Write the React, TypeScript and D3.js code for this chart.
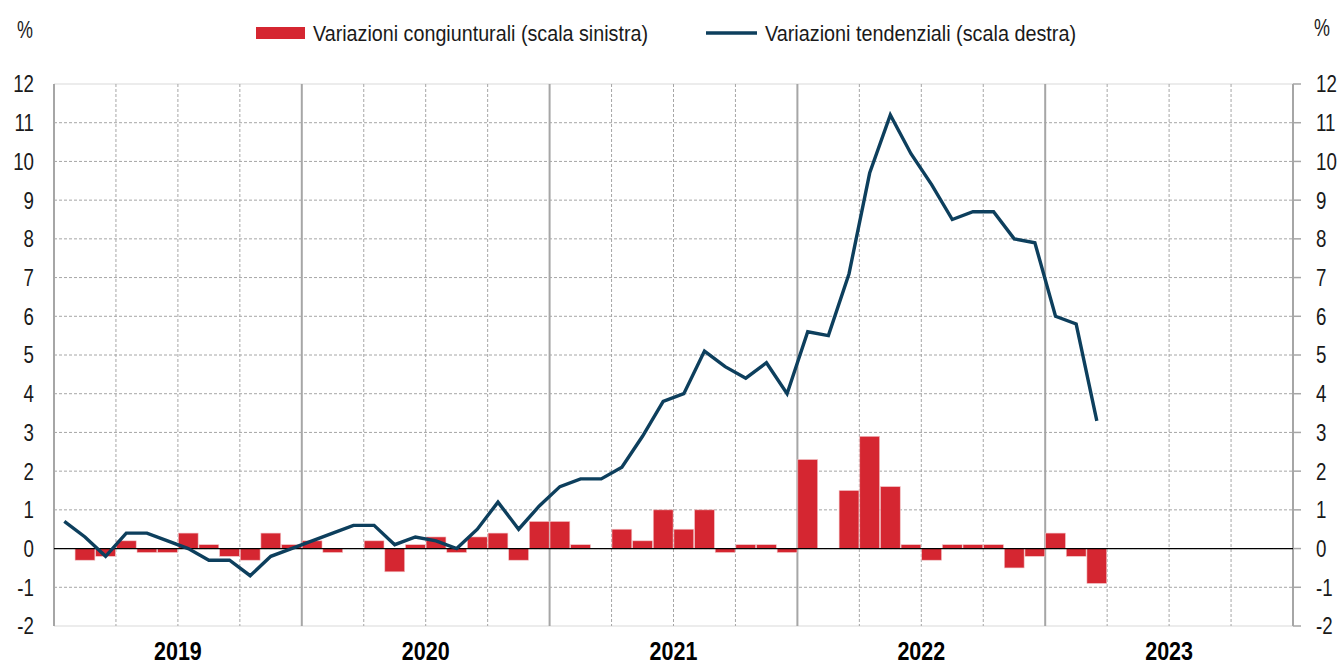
import * as d3 from 'd3';

// monthly data Jan 2019 - Mar 2023
const years = ['2019', '2020', '2021', '2022', '2023'];
const monthNames = ['gen', 'feb', 'mar', 'apr', 'mag', 'giu', 'lug', 'ago', 'set', 'ott', 'nov', 'dic'];
const congiunturali = [
  0, -0.3, -0.2, 0.2, -0.1, -0.1, 0.4, 0.1, -0.2, -0.3, 0.4, 0.1,
  0.2, -0.1, 0, 0.2, -0.6, 0.1, 0.3, -0.1, 0.3, 0.4, -0.3, 0.7,
  0.7, 0.1, 0, 0.5, 0.2, 1.0, 0.5, 1.0, -0.1, 0.1, 0.1, -0.1,
  2.3, 0, 1.5, 2.9, 1.6, 0.1, -0.3, 0.1, 0.1, 0.1, -0.5, -0.2,
  0.4, -0.2, -0.9,
];
const tendenziali = [
  0.7, 0.3, -0.2, 0.4, 0.4, 0.2, 0.0, -0.3, -0.3, -0.7, -0.2, 0.0,
  0.2, 0.4, 0.6, 0.6, 0.1, 0.3, 0.2, 0.0, 0.5, 1.2, 0.5, 1.1,
  1.6, 1.8, 1.8, 2.1, 2.9, 3.8, 4.0, 5.1, 4.7, 4.4, 4.8, 4.0,
  5.6, 5.5, 7.1, 9.7, 11.2, 10.2, 9.4, 8.5, 8.7, 8.7, 8.0, 7.9,
  6.0, 5.8, 3.3,
];
const yTicks = [-2, -1, 0, 1, 2, 3, 4, 5, 6, 7, 8, 9, 10, 11, 12];
const legendLabels = ['Variazioni congiunturali (scala sinistra)', 'Variazioni tendenziali (scala destra)'];

const W = 1341;
const H = 664;
const left = 54;
const right = 1293;
const top = 84;
const bottom = 626;
const font = '"Liberation Sans", Arial, sans-serif';

// Arial Narrow look-alike: regular sans squeezed horizontally
function Narrow({ x, y, anchor = 'start', size, sx = 0.78, bold = false, children, len }: any) {
  return (
    <g transform={`translate(${x},${y}) scale(${sx},1)`}>
      <text x={0} y={0} dy="0.35em" textAnchor={anchor} fontFamily={font} fontSize={size}
        fontWeight={bold ? 'bold' : 'normal'} fill={bold ? '#000' : '#1a1a1a'}
        textLength={len ? len / sx : undefined} lengthAdjust={len ? 'spacingAndGlyphs' : undefined}>
        {children}
      </text>
    </g>
  );
}

export default function App() {
  const months = years.flatMap(y => monthNames.map(m => `${m} ${y}`));

  const x = d3.scaleBand<string>().domain(months).range([left, right]).paddingInner(0.04).paddingOuter(0.02);
  const step = (right - left) / months.length;
  const xc = (i: number) => left + step * (i + 0.5);
  const yL = d3.scaleLinear().domain([-2, 12]).range([bottom, top]);
  const yR = d3.scaleLinear().domain([-2, 12]).range([bottom, top]);

  const line = d3.line<number>()
    .x((_, i) => xc(i))
    .y(d => yR(d));

  const quarterLines = d3.range(0, months.length + 1, 3).map(i => ({ i, x: left + step * i }));

  return (
    <svg width={W} height={H} style={{ display: 'block', position: 'absolute', left: 0, top: 0 }}>
      <rect width={W} height={H} fill="#fff" />

      {/* horizontal grid */}
      {yTicks.map(t => (
        <line key={'h' + t} x1={left} x2={right} y1={yL(t)} y2={yL(t)}
          stroke={t === 12 || t === -2 ? '#d9d9d9' : '#a6a6a6'}
          strokeWidth={1}
          strokeDasharray={t === 12 || t === -2 ? undefined : '3,2'} />
      ))}

      {/* vertical grid: quarters dashed, years solid */}
      {quarterLines.map(q => (
        <line key={'v' + q.i} x1={q.x} x2={q.x} y1={top} y2={bottom}
          stroke="#a6a6a6"
          strokeWidth={q.i % 12 === 0 ? 2 : 1}
          strokeDasharray={q.i % 12 === 0 ? undefined : '3,2'} />
      ))}

      {/* right axis ticks */}
      {yTicks.map(t => (
        <line key={'rt' + t} x1={right} x2={right + 8} y1={yR(t)} y2={yR(t)} stroke="#a6a6a6" strokeWidth={1.5} />
      ))}

      {/* bars */}
      {congiunturali.map((v, i) => (
        <rect key={'b' + i}
          x={x(months[i])!}
          y={Math.min(yL(v), yL(0))}
          width={x.bandwidth()}
          height={Math.abs(yL(v) - yL(0))}
          fill="#d52631"
          stroke="#f2c4c6"
          strokeWidth={0.6} />
      ))}

      {/* zero line */}
      <line x1={left} x2={right} y1={yL(0)} y2={yL(0)} stroke="#000" strokeWidth={1.2} />

      {/* line */}
      <path d={line(tendenziali) || ''} fill="none" stroke="#0d3f5d" strokeWidth={3.4} strokeLinejoin="miter" />

      {/* left labels */}
      {yTicks.map(t => (
        <Narrow key={'lt' + t} x={34} y={yL(t)} anchor="end" size={24}>{t}</Narrow>
      ))}
      {/* right labels */}
      {yTicks.map(t => (
        <Narrow key={'rl' + t} x={1316} y={yR(t)} size={24}>{t}</Narrow>
      ))}

      {/* year labels */}
      {years.map((yr, k) => (
        <Narrow key={yr} x={left + step * (k * 12 + 6)} y={651} anchor="middle" size={25} sx={0.86} bold>{yr}</Narrow>
      ))}

      {/* % signs */}
      <Narrow x={25} y={30} anchor="middle" size={23}>%</Narrow>
      <Narrow x={1322} y={28} anchor="middle" size={23}>%</Narrow>

      {/* legend */}
      <rect x={256} y={27} width={49} height={12} fill="#d52631" />
      <Narrow x={313} y={33} size={22} len={335}>{legendLabels[0]}</Narrow>
      <line x1={706} x2={757} y1={33} y2={33} stroke="#0d3f5d" strokeWidth={3.4} />
      <Narrow x={765} y={33} size={22} len={311}>{legendLabels[1]}</Narrow>
    </svg>
  );
}
